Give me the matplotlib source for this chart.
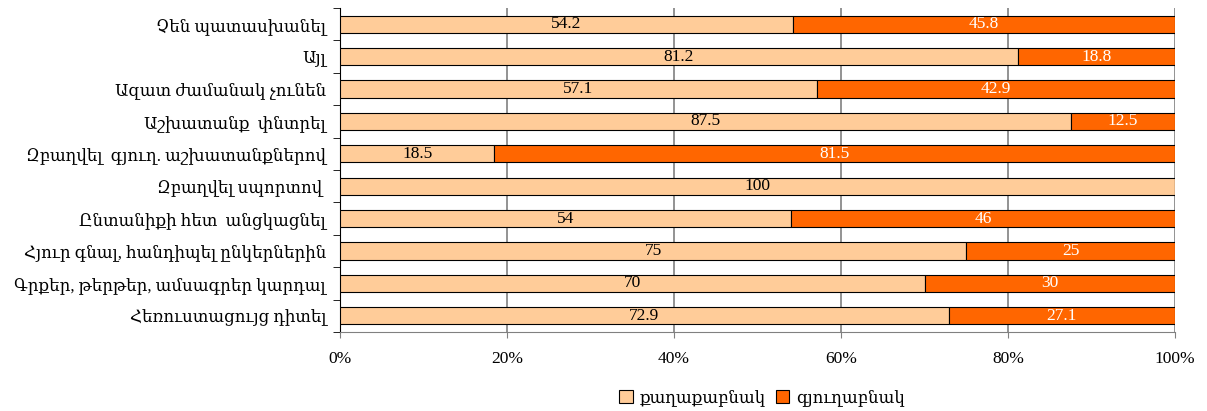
import numpy as np
import matplotlib.pyplot as plt
from matplotlib.ticker import PercentFormatter

# Datos (de arriba hacia abajo)
categorias = [
    'Չեն պատասխանել',
    'Այլ',
    'Ազատ ժամանակ չունեն',
    'Աշխատանք  փնտրել',
    'Զբաղվել  գյուղ. աշխատանքներով',
    'Զբաղվել սպորտով ',
    'Ընտանիքի հետ  անցկացնել',
    'Հյուր գնալ, հանդիպել ընկերներին',
    'Գրքեր, թերթեր, ամսագրեր կարդալ',
    'Հեռուստացույց դիտել',
]
quaghaqabnak = [54.2, 81.2, 57.1, 87.5, 18.5, 100, 54, 75, 70, 72.9]
gyughabnak = [45.8, 18.8, 42.9, 12.5, 81.5, 0, 46, 25, 30, 27.1]
series_names = ['քաղաքաբնակ', 'գյուղաբնակ']

fuente = ['Liberation Serif', 'DejaVu Serif']
plt.rcParams['font.family'] = fuente

fig = plt.figure(figsize=(12.07, 4.11), dpi=100)
ax = fig.add_axes([340 / 1207, 1 - 332 / 411, (1175 - 340) / 1207, (332 - 8) / 411])

y = np.arange(len(categorias))
alto = 0.53
b1 = ax.barh(y, quaghaqabnak, height=alto, color='#FFCC99', edgecolor='black',
             linewidth=0.8, label=series_names[0], zorder=3)
b2 = ax.barh(y, gyughabnak, left=quaghaqabnak, height=alto, color='#FF6600',
             edgecolor='black', linewidth=0.8, label=series_names[1], zorder=3)

ax.bar_label(b1, labels=[f'{v:g}' if v else '' for v in quaghaqabnak],
             label_type='center', fontsize=12.5, color='black')
ax.bar_label(b2, labels=[f'{v:g}' if v else '' for v in gyughabnak],
             label_type='center', fontsize=12.5, color='white')

ax.set_xlim(0, 100)
ax.set_ylim(len(categorias) - 0.5, -0.5)

# Eje Y: etiquetas en el centro, marcas entre categorías
ax.set_yticks(y)
ax.set_yticklabels(categorias, fontsize=12)
ax.tick_params(axis='y', which='major', length=0, pad=10)
ax.set_yticks(np.arange(-0.5, len(categorias)), minor=True)
ax.tick_params(axis='y', which='minor', length=5, direction='out', color='black')

# Eje X
ax.set_xticks(np.arange(0, 101, 20))
ax.xaxis.set_major_formatter(PercentFormatter(decimals=0))
ax.tick_params(axis='x', length=4, direction='out', pad=10, labelsize=12.5,
               color='#808080')
ax.grid(axis='x', color='#808080', linewidth=1.2, zorder=0)

for lado in ['top', 'right']:
    ax.spines[lado].set_visible(False)
ax.spines['left'].set_color('black')
ax.spines['bottom'].set_color('#808080')

fig.legend(loc='center', bbox_to_anchor=(762 / 1207, 1 - 398 / 411), ncol=2,
           frameon=False, fontsize=12, handlelength=0.8, handleheight=0.8,
           handletextpad=0.4, columnspacing=0.6)

fig.savefig('out.png', dpi=100)
